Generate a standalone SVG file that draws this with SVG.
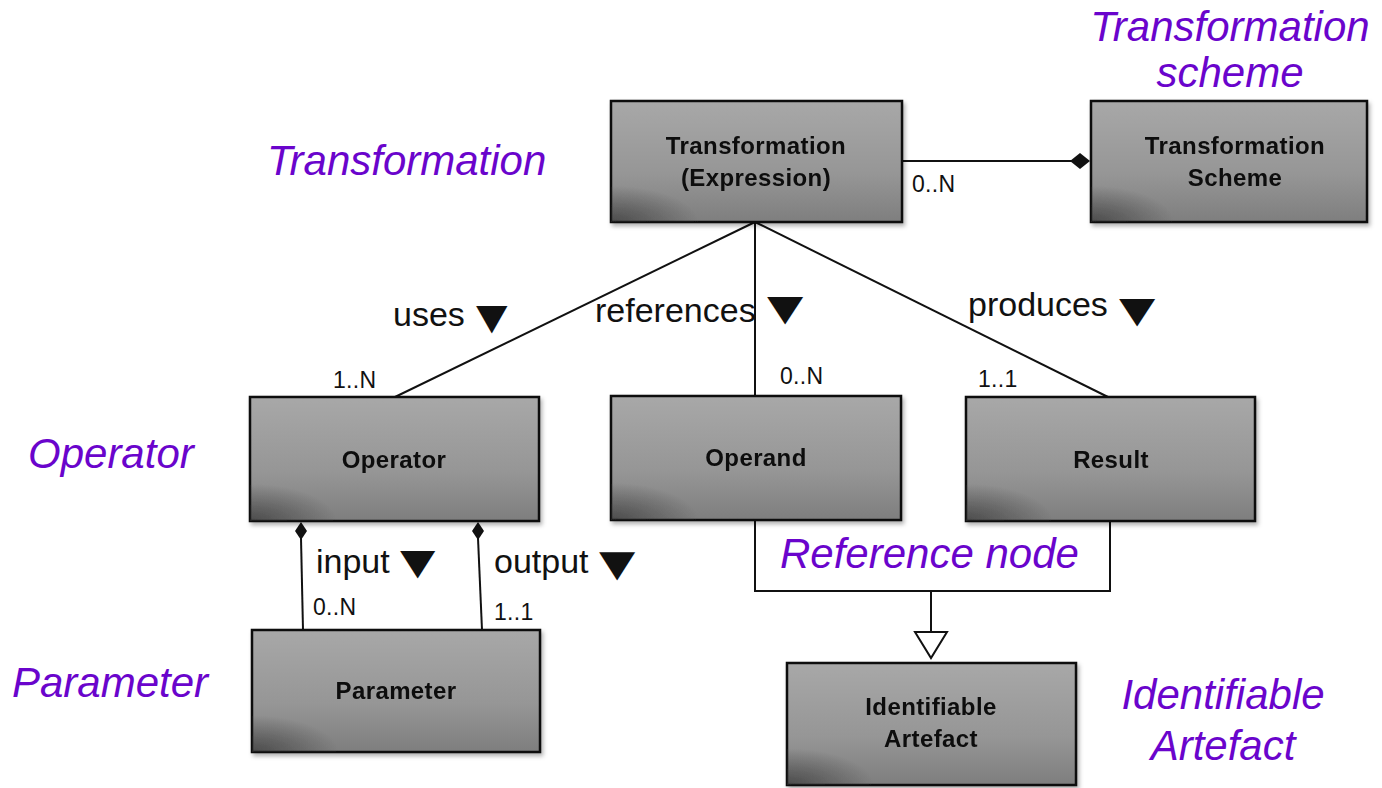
<svg xmlns="http://www.w3.org/2000/svg" width="1382" height="788" viewBox="0 0 1382 788">
  <defs>
    <linearGradient id="boxFill" x1="0" y1="0" x2="0" y2="1">
      <stop offset="0" stop-color="#a8a8a8"/>
      <stop offset="0.6" stop-color="#969696"/>
      <stop offset="1" stop-color="#7e7e7e"/>
    </linearGradient>
    <radialGradient id="cornerShade" cx="0" cy="1" r="0.3">
      <stop offset="0" stop-color="#2a2a2a" stop-opacity="0.6"/>
      <stop offset="1" stop-color="#2a2a2a" stop-opacity="0"/>
    </radialGradient>
    <filter id="shadow" x="-10%" y="-10%" width="125%" height="130%">
      <feDropShadow dx="2" dy="3" stdDeviation="2" flood-color="#000" flood-opacity="0.3"/>
    </filter>
  </defs>
  <style>
    .box { fill: url(#boxFill); stroke: #111; stroke-width: 2.5; }
    .shade { fill: url(#cornerShade); }
    .name { font-family: "Liberation Sans", Arial, sans-serif; font-weight: bold; font-size: 24px; letter-spacing: 0.4px; fill: #0d0d0d; text-anchor: middle; }
    .role { font-family: "Liberation Sans", Arial, sans-serif; font-size: 34px; fill: #111; }
    .mult { font-family: "Liberation Sans", Arial, sans-serif; font-size: 23px; fill: #111; letter-spacing: 0.3px; }
    .tri { font-family: "DejaVu Sans", sans-serif; font-size: 41px; fill: #111; }
    .note { font-family: "Liberation Sans", Arial, sans-serif; font-style: italic; font-size: 42px; fill: #6a04cc; }
    .wire { stroke: #111; stroke-width: 2; fill: none; }
  </style>

  <rect width="1382" height="788" fill="#ffffff"/>

  <!-- connectors -->
  <g id="connectors">
    <line class="wire" x1="902" y1="161" x2="1072" y2="161"/>
    <polygon points="1070,161 1080,153 1090,161 1080,169" fill="#111"/>
    <line class="wire" x1="755" y1="222" x2="395" y2="397"/>
    <line class="wire" x1="755" y1="222" x2="755" y2="396"/>
    <line class="wire" x1="755" y1="222" x2="1108" y2="397"/>
    <line class="wire" x1="301" y1="538" x2="303" y2="630"/>
    <polygon points="301,522 307,531 301,540 295,531" fill="#111"/>
    <line class="wire" x1="478" y1="538" x2="482" y2="630"/>
    <polygon points="478,522 484,531 478,540 472,531" fill="#111"/>
    <polyline class="wire" points="755,520 755,591 1110,591 1110,521"/>
    <line class="wire" x1="931" y1="591" x2="931" y2="632"/>
    <polygon points="915,632 947,632 931,658" fill="#fff" stroke="#111" stroke-width="2"/>
  </g>

  <!-- relationship labels -->
  <g id="labels">
    <text class="role" x="393" y="326">uses</text>
    <text class="tri" transform="translate(476,329) scale(1.0,0.87)">▼</text>
    <text class="role" x="595" y="322">references</text>
    <text class="tri" transform="translate(767,320) scale(1.15,0.87)">▼</text>
    <text class="role" x="968" y="316">produces</text>
    <text class="tri" transform="translate(1119,322) scale(1.15,0.87)">▼</text>
    <text class="role" x="316" y="573">input</text>
    <text class="tri" transform="translate(400,574) scale(1.12,0.87)">▼</text>
    <text class="role" x="494" y="573">output</text>
    <text class="tri" transform="translate(599,576) scale(1.15,0.9)">▼</text>
    <text class="mult" x="912" y="192">0..N</text>
    <text class="mult" x="333" y="388">1..N</text>
    <text class="mult" x="780" y="384">0..N</text>
    <text class="mult" x="978" y="387">1..1</text>
    <text class="mult" x="313" y="615">0..N</text>
    <text class="mult" x="494" y="620">1..1</text>
  </g>

  <!-- nodes -->
  <g id="transformation" filter="url(#shadow)">
    <rect class="box" x="611" y="101" width="291" height="121"/>
    <rect class="shade" x="611" y="101" width="291" height="121"/>
    <text class="name" x="756" y="154">Transformation</text>
    <text class="name" x="756" y="186">(Expression)</text>
  </g>
  <g id="transformation-scheme" filter="url(#shadow)">
    <rect class="box" x="1091" y="101" width="276" height="121"/>
    <rect class="shade" x="1091" y="101" width="276" height="121"/>
    <text class="name" x="1235" y="154">Transformation</text>
    <text class="name" x="1235" y="186">Scheme</text>
  </g>
  <g id="operator" filter="url(#shadow)">
    <rect class="box" x="250" y="397" width="289" height="124"/>
    <rect class="shade" x="250" y="397" width="289" height="124"/>
    <text class="name" x="394" y="468">Operator</text>
  </g>
  <g id="operand" filter="url(#shadow)">
    <rect class="box" x="611" y="396" width="290" height="124"/>
    <rect class="shade" x="611" y="396" width="290" height="124"/>
    <text class="name" x="756" y="466">Operand</text>
  </g>
  <g id="result" filter="url(#shadow)">
    <rect class="box" x="966" y="397" width="289" height="124"/>
    <rect class="shade" x="966" y="397" width="289" height="124"/>
    <text class="name" x="1111" y="468">Result</text>
  </g>
  <g id="parameter" filter="url(#shadow)">
    <rect class="box" x="252" y="630" width="288" height="122"/>
    <rect class="shade" x="252" y="630" width="288" height="122"/>
    <text class="name" x="396" y="699">Parameter</text>
  </g>
  <g id="identifiable-artefact" filter="url(#shadow)">
    <rect class="box" x="787" y="663" width="289" height="122"/>
    <rect class="shade" x="787" y="663" width="289" height="122"/>
    <text class="name" x="931" y="715">Identifiable</text>
    <text class="name" x="931" y="747">Artefact</text>
  </g>

  <!-- annotations -->
  <g id="annotations">
    <text class="note" x="1230" y="41" text-anchor="middle">Transformation</text>
    <text class="note" x="1230" y="87" text-anchor="middle">scheme</text>
    <text class="note" x="267" y="175">Transformation</text>
    <text class="note" x="28" y="468">Operator</text>
    <text class="note" x="12" y="697">Parameter</text>
    <text class="note" x="780" y="568">Reference node</text>
    <text class="note" x="1223" y="709" text-anchor="middle">Identifiable</text>
    <text class="note" x="1223" y="760" text-anchor="middle">Artefact</text>
  </g>
</svg>
